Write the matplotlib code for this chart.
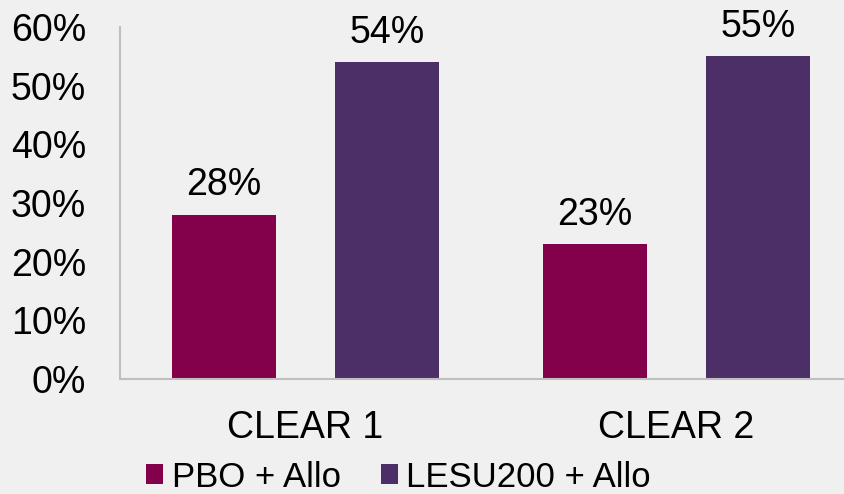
import matplotlib
matplotlib.use("Agg")
import matplotlib.pyplot as plt
import numpy as np

categories = ["CLEAR 1", "CLEAR 2"]
series_names = ["PBO + Allo", "LESU200 + Allo"]
pbo_values = [28, 23]
lesu_values = [54, 55]
yticks = [0, 10, 20, 30, 40, 50, 60]
colors = ["#83004A", "#4B2F66"]

plt.rcParams["font.family"] = ["Liberation Sans", "DejaVu Sans"]
FS = 27
LEG_FS = 25

fig = plt.figure(figsize=(8.44, 4.94), dpi=100, facecolor="#F0F0F0")
ax = fig.add_axes([120 / 844, 1 - 379 / 494, 742 / 844, (379 - 27) / 494])
ax.set_facecolor("#F0F0F0")

x = np.arange(len(categories))
width = 0.28
offset = 0.22
bars = []
for vals, off, col, name in zip([pbo_values, lesu_values], [-offset, offset], colors, series_names):
    b = ax.bar(x + off, vals, width, color=col, label=name, zorder=2)
    bars.append(b)
    for rect, v in zip(b, vals):
        ax.annotate(f"{v}%", (rect.get_x() + rect.get_width() / 2, v),
                    xytext=(0, 14), textcoords="offset points",
                    ha="center", va="baseline", fontsize=FS, color="black")

ax.set_xlim(-0.5, 1.5)
ax.set_ylim(0, 60)
ax.set_yticks(yticks)
ax.set_yticklabels([f"{t}%" for t in yticks])
ax.set_xticks(x)
ax.set_xticklabels(categories)
ax.tick_params(axis="y", length=0, pad=24.5, labelsize=FS)
ax.tick_params(axis="x", length=0, pad=22, labelsize=FS)

for side in ["top", "right"]:
    ax.spines[side].set_visible(False)
for side in ["left", "bottom"]:
    ax.spines[side].set_color("#BFBFBF")
    ax.spines[side].set_linewidth(1.5)

fig.legend(handles=bars, labels=series_names, loc="center",
           bbox_to_anchor=(398.5 / 844, 1 - 477 / 494), ncol=2, frameon=False,
           fontsize=LEG_FS, handlelength=0.49, handleheight=0.49,
           handletextpad=0.25, columnspacing=1.15, borderpad=0.0)

fig.savefig("out.png", dpi=100, facecolor=fig.get_facecolor())
